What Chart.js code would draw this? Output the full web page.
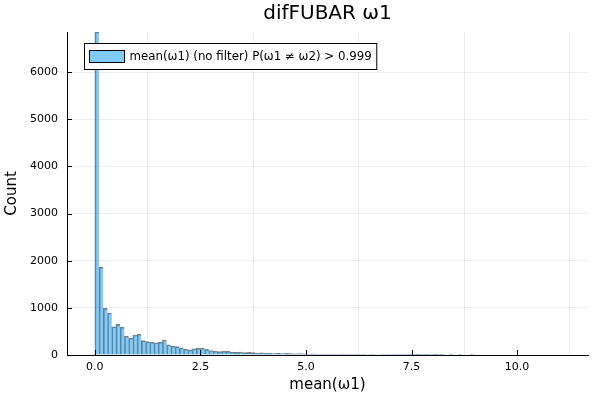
<!DOCTYPE html>
<html>
<head>
<meta charset="utf-8">
<script src="https://cdn.jsdelivr.net/npm/chart.js@4/dist/chart.umd.min.js"></script>
<style>
  html, body { margin: 0; padding: 0; background: #fff; }
  #wrap { width: 600px; height: 400px; }
</style>
</head>
<body>
<div id="wrap"><canvas id="histChart" width="600" height="400"></canvas></div>
<script>
// bin width 0.1, bins start at 0.0
const binWidth = 0.1;
const counts = [
  6850, 1860, 990, 890, 600, 650, 590, 400, 360, 425,
  440, 305, 285, 270, 260, 270, 318, 215, 185, 178,
  150, 125, 110, 130, 145, 148, 120, 95, 80, 72,
  78, 78, 64, 57, 64, 50, 57, 50, 42, 45,
  35, 38, 30, 35, 30, 36, 28, 26, 30, 25,
  22, 24, 20, 22, 18, 16, 18, 15, 17, 14,
  16, 13, 12, 14, 11, 12, 10, 11, 8, 5,
  6, 4, 5, 3, 4, 3, 2, 3, 2, 1,
  2, 1, 1, 0, 1, 0, 1, 0, 0, 1
];
const xTicks = [0, 2.5, 5, 7.5, 10];
const yTicks = [0, 1000, 2000, 3000, 4000, 5000, 6000];
const seriesLabel = 'mean(ω1) (no filter) P(ω1 ≠ ω2) > 0.999';

const fillColor = 'rgba(0,154,250,0.5)';
const fontFamily = '"DejaVu Sans", sans-serif';

let points = counts.map((c, i) => ({x: (i + 0.5) * binWidth, y: c}));

// Plots-style inward tick marks
const innerTicks = {
    id: 'innerTicks',
    afterDatasetsDraw(chart) {
        let ctx = chart.ctx;
        let xs = chart.scales.x, ys = chart.scales.y;
        let area = chart.chartArea;
        ctx.save();
        ctx.strokeStyle = '#000';
        ctx.lineWidth = 1;
        ctx.beginPath();
        xTicks.forEach(v => {
            let px = Math.round(xs.getPixelForValue(v)) + 0.5;
            ctx.moveTo(px, area.bottom);
            ctx.lineTo(px, area.bottom - 5);
        });
        yTicks.forEach(v => {
            let py = Math.round(ys.getPixelForValue(v)) + 0.5;
            ctx.moveTo(area.left, py);
            ctx.lineTo(area.left + 5, py);
        });
        ctx.stroke();
        ctx.restore();
    }
};

// legend box inside the plot area, top left
const insideLegend = {
    id: 'insideLegend',
    afterDraw(chart) {
        let ctx = chart.ctx;
        let area = chart.chartArea;
        let x = area.left + 17.5, y = area.top + 11.5;
        ctx.save();
        ctx.font = '11.8px ' + fontFamily;
        let w = ctx.measureText(seriesLabel).width + 50;
        ctx.fillStyle = '#fff';
        ctx.fillRect(x, y, w, 26);
        ctx.strokeStyle = '#000';
        ctx.lineWidth = 1;
        ctx.strokeRect(x, y, w, 26);
        ctx.fillStyle = fillColor;
        ctx.fillRect(x + 5, y + 7, 35, 12);
        ctx.strokeRect(x + 5, y + 7, 35, 12);
        ctx.fillStyle = '#000';
        ctx.textBaseline = 'middle';
        ctx.fillText(seriesLabel, x + 45, y + 13.5);
        ctx.restore();
    }
};

new Chart(document.getElementById('histChart'), {
    type: 'bar',
    data: {
        datasets: [{
            label: seriesLabel,
            data: points,
            backgroundColor: fillColor,
            borderColor: 'rgba(0,0,0,0.5)',
            borderWidth: {left: 1, right: 0, top: 1, bottom: 0},
            borderSkipped: false,
            barPercentage: 1,
            categoryPercentage: 1
        }]
    },
    options: {
        responsive: false,
        animation: false,
        layout: {padding: {left: 0, right: 12, top: 0, bottom: 0}},
        scales: {
            x: {
                type: 'linear',
                offset: false,
                min: -0.66,
                max: 11.68,
                afterBuildTicks: scale => { scale.ticks = xTicks.map(v => ({value: v})); },
                afterFit: scale => { scale.height = 45; },
                ticks: {
                    color: '#000',
                    padding: 6,
                    maxRotation: 0,
                    font: {family: fontFamily, size: 11},
                    callback: v => v.toFixed(1)
                },
                grid: {color: 'rgba(0,0,0,0.07)', tickLength: 0},
                border: {color: '#000', width: 1},
                title: {
                    display: true,
                    text: 'mean(ω1)',
                    color: '#000',
                    font: {family: fontFamily, size: 15},
                    padding: {top: 0, bottom: 6}
                }
            },
            y: {
                min: 0,
                max: 6850,
                afterBuildTicks: scale => { scale.ticks = yTicks.map(v => ({value: v})); },
                afterFit: scale => { scale.width = 67; },
                ticks: {
                    color: '#000',
                    padding: 9,
                    font: {family: fontFamily, size: 11},
                    callback: v => String(v)
                },
                grid: {color: 'rgba(0,0,0,0.07)', tickLength: 0},
                border: {color: '#000', width: 1},
                title: {
                    display: true,
                    text: 'Count',
                    color: '#000',
                    font: {family: fontFamily, size: 15},
                    padding: {top: 3, bottom: 0}
                }
            }
        },
        plugins: {
            legend: {display: false},
            tooltip: {enabled: false},
            title: {
                display: true,
                fullSize: false,
                text: 'difFUBAR ω1',
                color: '#000',
                font: {family: fontFamily, size: 20, weight: 'normal'},
                padding: {top: 2, bottom: 6}
            }
        }
    },
    plugins: [innerTicks, insideLegend]
});
</script>
</body>
</html>
